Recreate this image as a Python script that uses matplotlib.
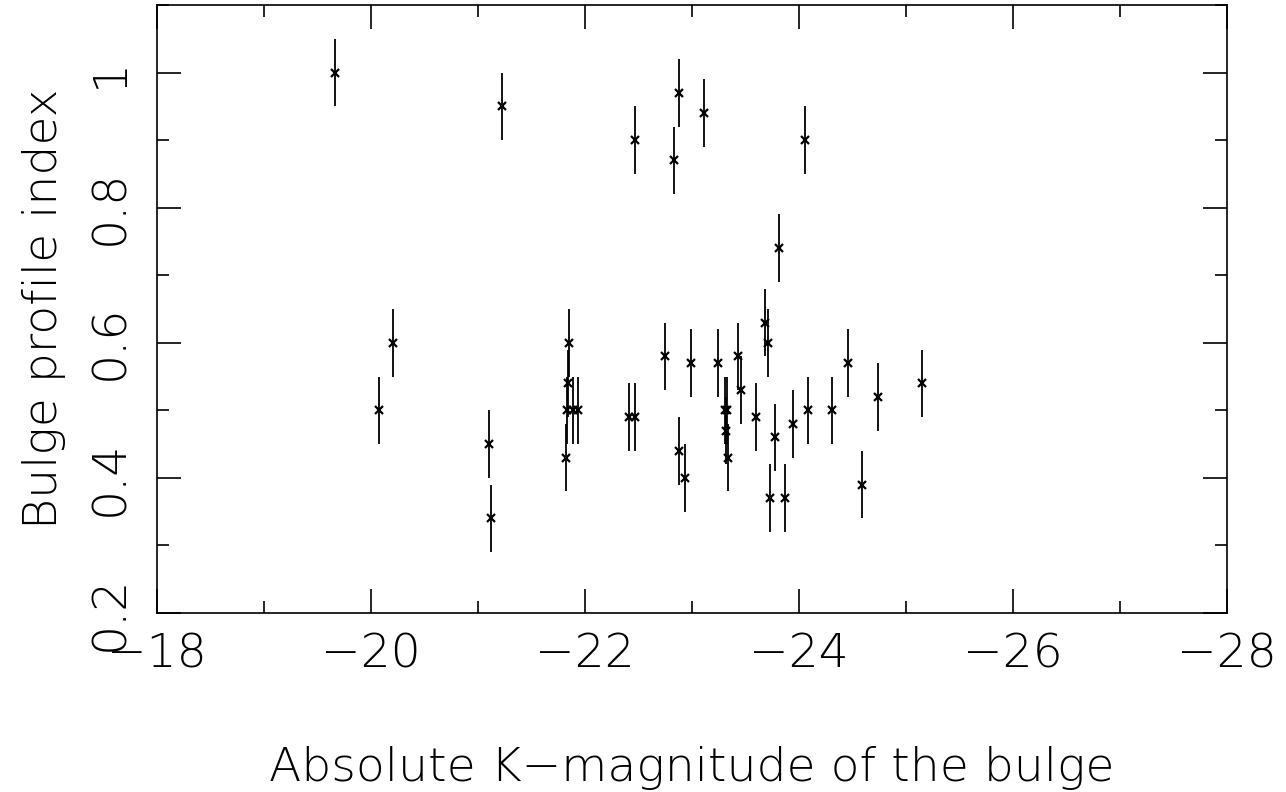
import matplotlib
matplotlib.use("Agg")
import matplotlib.pyplot as plt
from matplotlib.ticker import MultipleLocator, FuncFormatter

# Absolute K-magnitude of the bulge
mag_k = [-19.66, -20.07, -20.21, -21.10, -21.12, -21.22, -21.82, -21.83, -21.84,
         -21.85, -21.89, -21.93, -22.41, -22.47, -22.47, -22.75, -22.83, -22.88,
         -22.88, -22.93, -22.99, -23.11, -23.24, -23.31, -23.33, -23.32, -23.34,
         -23.43, -23.46, -23.60, -23.68, -23.71, -23.73, -23.78, -23.81, -23.87,
         -23.94, -24.06, -24.08, -24.31, -24.46, -24.59, -24.74, -25.15]
# Bulge profile index
profile_index = [1.00, 0.50, 0.60, 0.45, 0.34, 0.95, 0.43, 0.50, 0.54,
                 0.60, 0.50, 0.50, 0.49, 0.49, 0.90, 0.58, 0.87, 0.97,
                 0.44, 0.40, 0.57, 0.94, 0.57, 0.50, 0.50, 0.47, 0.43,
                 0.58, 0.53, 0.49, 0.63, 0.60, 0.37, 0.46, 0.74, 0.37,
                 0.48, 0.90, 0.50, 0.50, 0.57, 0.39, 0.52, 0.54]
# Error on profile index
profile_err = [0.05] * len(profile_index)

x_label = "Absolute K\u2212magnitude of the bulge"
y_label = "Bulge profile index"

plt.rcParams['font.family'] = ['DejaVu Sans']
plt.rcParams['font.weight'] = 'light'
plt.rcParams['axes.unicode_minus'] = True

fig = plt.figure(figsize=(12.86, 7.92), dpi=100)
ax = fig.add_axes([0.1221, 0.2260, 0.8320, 0.7677])

ax.errorbar(mag_k, profile_index, yerr=profile_err, fmt='none',
            ecolor='black', elinewidth=1.3, capsize=0)
ax.plot(mag_k, profile_index, linestyle='none', marker='x', color='black',
        markersize=6, markeredgewidth=1.6)

ax.set_xlim(-18, -28)
ax.set_ylim(0.2, 1.1)

ax.xaxis.set_major_locator(MultipleLocator(2))
ax.xaxis.set_minor_locator(MultipleLocator(1))
ax.yaxis.set_major_locator(MultipleLocator(0.2))
ax.yaxis.set_minor_locator(MultipleLocator(0.1))

def xfmt(v, pos):
    return "\u2212%d" % round(abs(v)) if v < 0 else "%d" % round(v)

def yfmt(v, pos):
    s = "%.1f" % v
    if s.endswith(".0"):
        s = s[:-2]
    return s

ax.xaxis.set_major_formatter(FuncFormatter(xfmt))
ax.yaxis.set_major_formatter(FuncFormatter(yfmt))

for sp in ax.spines.values():
    sp.set_linewidth(1.2)

ax.tick_params(which='both', direction='in', top=True, right=True,
               width=1.2, colors='black')
ax.tick_params(which='major', length=17, labelsize=34, pad=14)
ax.tick_params(which='minor', length=8.6)
ax.tick_params(axis='y', which='major', labelrotation=90, pad=18)
for lab in ax.get_yticklabels() + ax.get_xticklabels():
    lab.set_fontweight('light')
for lab in ax.get_yticklabels():
    lab.set_verticalalignment('center')

ax.set_xlabel(x_label, fontsize=34, labelpad=50, fontweight='light')
ax.set_ylabel(y_label, fontsize=34, labelpad=16, fontweight='light')

fig.savefig("out.png", dpi=100)
